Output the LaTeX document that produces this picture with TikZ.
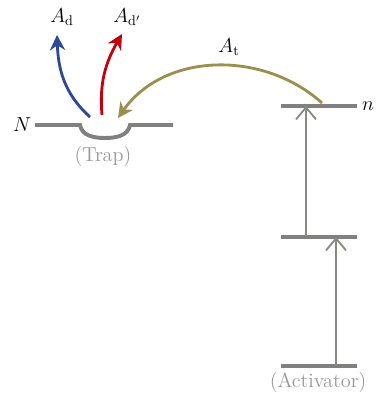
\documentclass[tikz,border=0pt]{standalone}
\usepackage{amsmath,amssymb}
\usetikzlibrary{arrows.meta}
\definecolor{lvlgray}{RGB}{128,128,126}
\definecolor{arrgray}{RGB}{136,136,132}
\definecolor{txtgray}{RGB}{150,150,150}
\definecolor{dblue}{RGB}{44,72,152}
\definecolor{dred}{RGB}{196,0,12}
\definecolor{olivet}{RGB}{154,143,78}
\begin{document}
\begin{tikzpicture}[font=\Large,level/.style={line width=2.8pt,lvlgray},up/.style={line width=1.3pt,arrgray,-{Straight Barb[length=3mm,width=5mm]}},rate/.style={line width=2pt,-{Stealth[length=3.8mm,width=3.8mm]}}]
\useasboundingbox(0,0)rectangle(9.4,9.9);
\coordinate(trapL)at(.875,6.775);\coordinate(dipL)at(2,6.775);\coordinate(dipB)at(2.625,6.45);\coordinate(dipR)at(3.25,6.775);\coordinate(trapR)at(4.325,6.775);
\coordinate(nL)at(7.025,7.25);\coordinate(nR)at(8.925,7.25);
\coordinate(midL)at(7.025,3.975);\coordinate(midR)at(8.925,3.975);
\coordinate(botL)at(7.025,.75);\coordinate(botR)at(8.925,.75);
\draw[level](trapL)--(dipL)to[out=-80,in=180](dipB)to[out=0,in=-100](dipR)--(trapR);
\draw[level](nL)--(nR);\draw[level](midL)--(midR);\draw[level](botL)--(botR);
\node(N)at(.55,6.775){$N$};\node(n)at(9.2,7.25){$n$};
\node[txtgray](trap)at(2.575,6.0){(Trap)};\node[txtgray](act)at(7.95,.35){(Activator)};
\coordinate(a1s)at(8.4,.75);\coordinate(a1e)at(8.4,3.975);\coordinate(a2s)at(7.65,3.975);\coordinate(a2e)at(7.65,7.25);
\draw[up](a1s)--(a1e);\draw[up](a2s)--(a2e);
\coordinate(ts)at(8.05,7.325);\coordinate(te)at(2.95,6.95);\node(At)at(5.725,8.725){$A_\mathrm{t}$};
\draw[rate,olivet](ts)to[out=138,in=55](te);
\coordinate(ds)at(2.25,6.975);\coordinate(de)at(1.425,9.025);\node(Ad)at(1.55,9.475){$A_\mathrm{d}$};
\draw[rate,dblue](ds)to[out=138,in=-88](de);
\coordinate(rs)at(2.55,7.025);\coordinate(re)at(3.05,9.05);\node(Adp)at(3.175,9.475){$A_{\mathrm{d}'}$};
\draw[rate,dred](rs)to[out=95,in=-120](re);
\end{tikzpicture}
\end{document}
